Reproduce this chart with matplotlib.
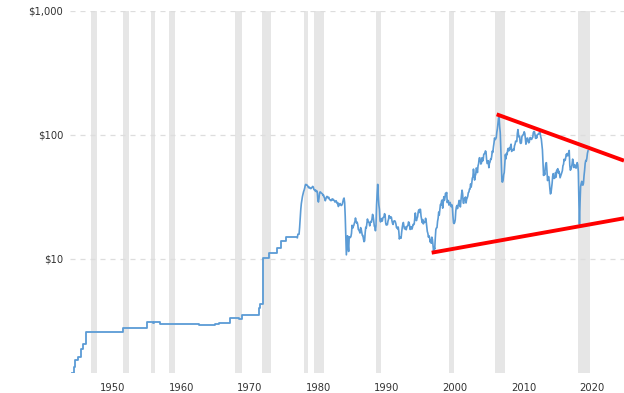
import numpy as np
import matplotlib
matplotlib.use("Agg")
import matplotlib.pyplot as plt
from matplotlib.ticker import FixedLocator, NullLocator

# ---------------- data ----------------
# early posted-price era (step changes): change dates and prices
step_years = [1946.0, 1946.4, 1946.55, 1946.9, 1947.3, 1947.7, 1948.05, 1953.45,
              1957.0, 1957.9, 1958.1, 1958.95, 1964.6, 1966.5, 1967.0, 1967.5,
              1969.2, 1970.5, 1970.9, 1973.4, 1973.6, 1974.0, 1974.8, 1976.0,
              1976.6, 1977.4, 1979.0]
step_prices = [1.21, 1.35, 1.53, 1.63, 1.88, 2.05, 2.59, 2.80,
               3.12, 3.06, 3.10, 2.97, 2.92, 2.94, 3.00, 3.07,
               3.35, 3.28, 3.56, 4.00, 4.31, 10.1, 11.2, 12.2,
               14.0, 15.1, 15.1]

# monthly prices
prices_1979_1985 = [
    14.85, 15.85, 15.85, 15.85, 18.0, 21.5, 25.0, 28.0, 30.0, 32.0, 33.5, 35.0,
    36.0, 37.5, 39.5, 40.0, 39.5, 39.5, 39.0, 38.0, 37.5, 38.0, 37.5, 37.0,
    37.0, 37.5, 38.0, 38.5, 38.0, 36.5, 36.0, 35.5, 36.0, 35.0, 35.5, 34.5,
    30.0, 28.8, 31.0, 34.0, 34.8, 34.5, 34.0, 33.8, 33.5, 32.5, 32.8, 31.5,
    30.8, 29.5, 30.5, 31.5, 32.0, 31.5, 31.0, 31.5, 30.5, 30.0, 30.0, 29.5,
    29.8, 30.5, 30.0, 30.3, 29.8, 29.5, 28.8, 29.0, 29.5, 28.8, 28.0, 28.5,
    26.5, 27.5, 27.5, 28.0, 27.3, 27.0, 27.2, 27.8, 29.0, 30.5, 31.0, 28.5]
prices_1986_1995 = [
    22.0, 15.5, 10.8, 12.8, 15.4, 13.0, 11.5, 15.1, 14.9, 14.9, 15.2, 16.1,
    18.7, 17.7, 18.3, 18.6, 19.4, 20.0, 21.4, 20.3, 19.5, 19.8, 18.9, 17.3,
    17.1, 16.7, 16.2, 17.9, 17.4, 16.5, 15.5, 15.5, 14.5, 13.8, 14.0, 16.3,
    18.0, 17.8, 19.4, 21.0, 20.0, 20.0, 19.6, 18.5, 19.6, 20.1, 19.8, 21.1,
    22.9, 22.1, 20.4, 18.4, 18.2, 16.9, 18.6, 27.2, 33.7, 40.0, 32.3, 27.3,
    25.2, 20.5, 19.9, 20.8, 21.2, 20.2, 21.4, 21.7, 21.9, 23.2, 22.5, 19.5,
    18.8, 19.0, 18.9, 20.2, 20.9, 22.4, 21.8, 21.4, 21.9, 21.7, 20.3, 19.4,
    19.0, 20.1, 20.3, 20.3, 19.9, 19.1, 17.9, 18.0, 17.5, 18.1, 16.7, 14.5,
    15.0, 14.8, 14.7, 16.4, 17.9, 19.1, 19.7, 18.4, 17.5, 17.7, 18.1, 17.2,
    18.0, 18.5, 18.6, 19.9, 19.7, 18.5, 17.3, 18.0, 18.2, 17.4, 18.0, 19.0]
prices_1996_2005 = [
    18.9, 19.1, 21.3, 23.5, 21.2, 20.4, 21.3, 21.9, 23.9, 24.9, 23.7, 25.2,
    25.1, 22.2, 20.9, 19.7, 20.8, 19.2, 19.6, 19.9, 19.8, 21.3, 20.2, 18.3,
    16.7, 16.1, 15.0, 15.4, 14.9, 13.7, 14.1, 13.4, 15.0, 14.4, 12.9, 11.6,
    12.5, 12.0, 14.7, 17.3, 17.8, 17.9, 20.1, 21.3, 23.9, 22.6, 25.0, 27.5,
    27.2, 29.4, 29.9, 25.7, 28.8, 31.8, 29.7, 31.2, 33.9, 33.1, 34.4, 28.5,
    29.6, 29.6, 27.2, 27.4, 28.6, 27.6, 26.4, 27.4, 26.2, 22.2, 19.6, 19.3,
    19.7, 20.7, 24.4, 26.3, 27.0, 25.5, 26.9, 28.4, 29.7, 28.9, 26.3, 29.4,
    32.9, 35.9, 33.5, 28.3, 28.1, 30.7, 30.8, 31.6, 28.3, 30.3, 31.1, 32.1,
    34.3, 34.7, 36.7, 36.7, 40.3, 38.0, 40.7, 44.9, 45.9, 53.1, 48.5, 43.3,
    46.8, 48.1, 54.2, 53.0, 49.8, 56.3, 58.7, 65.0, 65.6, 62.3, 58.3, 59.4]
prices_2006_2015 = [
    65.5, 61.6, 62.9, 69.4, 70.8, 70.9, 74.4, 73.0, 63.8, 58.9, 59.1, 62.0,
    54.5, 59.3, 60.4, 63.9, 63.5, 67.5, 74.1, 72.4, 79.9, 86.0, 94.6, 91.7,
    93.0, 95.4, 105.5, 112.6, 125.4, 137.0, 140.0, 116.7, 104.1, 76.6, 57.3, 42.0,
    41.7, 43.0, 47.9, 49.7, 59.0, 69.6, 64.2, 71.1, 69.4, 75.7, 78.0, 74.5,
    78.3, 76.4, 81.2, 84.3, 73.7, 75.3, 76.3, 76.6, 75.2, 81.9, 84.3, 89.2,
    89.2, 88.6, 102.9, 110.5, 100.9, 96.3, 97.3, 86.3, 85.5, 86.3, 97.2, 98.6,
    100.3, 102.2, 106.2, 103.3, 94.7, 84.3, 87.9, 94.1, 94.5, 89.5, 86.5, 87.9,
    94.8, 95.3, 93.0, 92.0, 94.5, 95.8, 104.6, 106.6, 106.3, 100.5, 93.9, 97.6,
    94.6, 100.8, 100.8, 102.1, 102.2, 105.8, 103.6, 96.5, 93.2, 84.4, 75.8, 59.3,
    47.2, 50.6, 47.8, 54.5, 59.3, 59.8, 50.9, 42.9, 45.5, 46.2, 42.4, 37.2]
prices_2016_2021 = [
    33.5, 34.0, 37.5, 40.8, 46.7, 48.8, 44.7, 44.7, 45.2, 49.8, 45.7, 52.0,
    52.5, 53.5, 49.3, 51.1, 48.5, 45.2, 46.6, 48.0, 49.8, 51.6, 56.6, 57.9,
    63.7, 62.2, 62.7, 66.3, 70.0, 67.9, 71.0, 68.1, 70.2, 75.0, 57.0, 52.0,
    53.0, 55.0, 58.2, 63.9, 60.8, 54.7, 57.4, 54.8, 57.0, 54.0, 57.0, 59.9,
    57.5, 50.5, 29.2, 19.0, 28.5, 38.3, 40.7, 42.3, 39.6, 39.4, 40.9, 47.0,
    52.0, 59.0, 62.3, 61.7, 65.2, 71.4, 74.5]
monthly_starts = [1979, 1986, 1996, 2006, 2016]
monthly_blocks = [prices_1979_1985, prices_1986_1995, prices_1996_2005,
                  prices_2006_2015, prices_2016_2021]

# recession periods (start, end)
recessions = [(1948.83, 1949.75), (1953.5, 1954.33), (1957.6, 1958.25),
              (1960.25, 1961.1), (1969.9, 1970.85), (1973.85, 1975.2),
              (1980.0, 1980.5), (1981.5, 1982.85), (1990.5, 1991.2),
              (2001.2, 2001.85), (2007.9, 2009.4), (2020.0, 2021.75)]

# trend lines (start/end dates and prices)
upper_trend_x = [2008.14, 2026.76]
upper_trend_y = [146.8, 62.1]
lower_trend_x = [1998.64, 2026.76]
lower_trend_y = [11.24, 21.3]

x_tick_years = [1950, 1960, 1970, 1980, 1990, 2000, 2010, 2020]
y_ticks = [10, 100, 1000]
y_tick_labels = ["$10", "$100", "$1,000"]

# ---------------- plot ----------------
W, H = 624, 393
fig = plt.figure(figsize=(W / 100, H / 100), dpi=100)
ax = fig.add_axes([70 / W, (H - 373) / H, (W - 70) / W, (373 - 11) / H])

ax.set_yscale("log")
ax.set_xlim(1945.76, 2026.76)
ax.set_ylim(1.204, 1000)

for a, b in recessions:
    ax.axvspan(a, b, color="#e6e6e6", lw=0, zorder=0)

# early step series
ax.plot(step_years, step_prices, drawstyle="steps-post", color="#5b9bd5",
        lw=1.3, zorder=3)
# monthly series
mx, my = [], []
for start, block in zip(monthly_starts, monthly_blocks):
    mx.extend(start + np.arange(len(block)) / 12.0)
    my.extend(block)
ax.plot(mx, my, color="#5b9bd5", lw=1.2, zorder=3, solid_joinstyle="round")

ax.plot(upper_trend_x, upper_trend_y, color="#ff0000", lw=2.8, zorder=4,
        solid_capstyle="butt")
ax.plot(lower_trend_x, lower_trend_y, color="#ff0000", lw=2.8, zorder=4,
        solid_capstyle="butt")

LABEL_SHIFT = 2.05
ax.xaxis.set_major_locator(FixedLocator([y + LABEL_SHIFT for y in x_tick_years]))
ax.set_xticklabels([str(y) for y in x_tick_years])
ax.yaxis.set_major_locator(FixedLocator(y_ticks))
ax.yaxis.set_minor_locator(NullLocator())
ax.set_yticklabels(y_tick_labels)

ax.tick_params(axis="both", length=0, labelsize=7.2, labelcolor="#333333")
ax.tick_params(axis="x", pad=7)
ax.tick_params(axis="y", pad=5)

ax.yaxis.grid(True, linestyle=(0, (4, 4)), color="#dddddd", lw=0.9)
ax.xaxis.grid(False)
ax.set_axisbelow(True)
for s in ax.spines.values():
    s.set_visible(False)

fig.savefig("out.png", dpi=100)
